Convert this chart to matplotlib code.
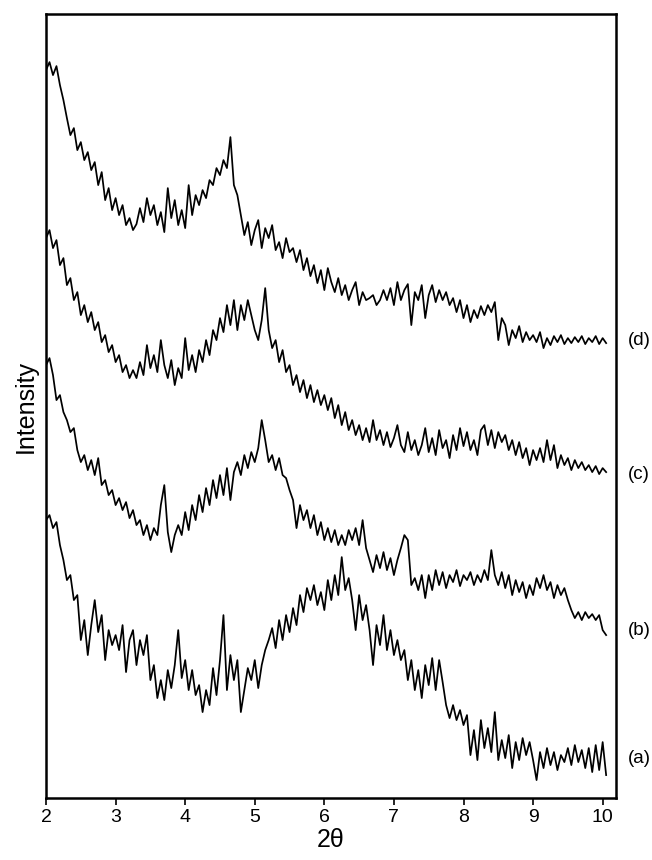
import numpy as np
import matplotlib
matplotlib.use("Agg")
import matplotlib.pyplot as plt

plt.rcParams['font.family'] = ['Liberation Sans', 'DejaVu Sans']

# 2-theta grid (degrees), 0.05 step
two_theta = np.round(np.arange(2.0, 10.051, 0.05), 2)

# intensities (arb. units, curves already offset as in the figure)
int_a = [280, 285, 272, 278, 255, 240, 220, 225, 200, 205, 160, 180, 145, 175, 200, 168,
         185, 140, 170, 155, 165, 150, 175, 128, 160, 170, 135, 160, 145, 165, 120, 135,
         102, 120, 100, 130, 112, 135, 170, 122, 140, 110, 130, 105, 115, 88, 110, 95,
         132, 105, 140, 185, 110, 145, 120, 140, 88, 110, 132, 120, 140, 112, 135, 150,
         160, 172, 152, 180, 160, 185, 168, 192, 175, 205, 188, 212, 200, 215, 195, 208,
         190, 220, 200, 225, 205, 243, 210, 222, 200, 170, 205, 180, 195, 170, 135, 175,
         155, 185, 150, 170, 145, 160, 140, 150, 120, 140, 110, 130, 102, 135, 115, 142,
         110, 140, 118, 95, 82, 95, 80, 90, 75, 85, 45, 70, 40, 80, 52, 72,
         48, 88, 40, 60, 42, 65, 32, 58, 40, 62, 45, 58, 40, 20, 48, 32,
         52, 35, 48, 30, 45, 38, 52, 35, 55, 38, 50, 32, 52, 28, 55, 30,
         58, 25]

int_b = [435, 442, 425, 400, 405, 388, 380, 368, 372, 350, 338, 345, 330, 340, 325, 342,
         315, 320, 305, 310, 295, 302, 290, 298, 282, 290, 275, 280, 265, 275, 260, 272,
         265, 295, 315, 268, 248, 265, 275, 265, 288, 270, 295, 280, 305, 288, 312, 295,
         320, 302, 325, 305, 332, 300, 328, 338, 325, 345, 332, 348, 338, 352, 380, 360,
         338, 345, 330, 342, 325, 322, 310, 300, 272, 295, 280, 290, 272, 285, 265, 278,
         260, 272, 258, 270, 255, 265, 255, 270, 260, 272, 255, 280, 252, 240, 228, 245,
         232, 248, 230, 242, 225, 240, 252, 265, 260, 215, 222, 210, 225, 202, 225, 210,
         230, 215, 228, 212, 225, 218, 230, 214, 225, 220, 228, 215, 225, 218, 230, 220,
         250, 225, 215, 228, 212, 225, 205, 220, 208, 218, 202, 215, 205, 222, 212, 225,
         210, 218, 202, 215, 205, 212, 200, 190, 182, 188, 180, 188, 182, 186, 180, 185,
         170, 165]

int_c = [562, 570, 552, 560, 535, 542, 515, 522, 500, 508, 485, 495, 478, 488, 470, 478,
         458, 465, 448, 455, 438, 445, 428, 435, 422, 430, 422, 438, 425, 455, 432, 445,
         428, 460, 435, 422, 440, 415, 432, 422, 462, 430, 445, 428, 450, 438, 460, 445,
         470, 460, 482, 468, 495, 475, 500, 470, 495, 480, 500, 485, 470, 460, 480, 512,
         470, 452, 460, 438, 450, 428, 435, 415, 425, 408, 420, 402, 415, 398, 410, 395,
         405, 390, 402, 382, 395, 375, 388, 370, 380, 365, 375, 360, 372, 358, 380, 360,
         370, 355, 368, 353, 362, 375, 355, 348, 368, 350, 360, 345, 355, 372, 348, 362,
         345, 370, 352, 360, 342, 365, 350, 372, 354, 368, 350, 360, 345, 370, 375, 355,
         370, 352, 368, 358, 365, 350, 360, 345, 358, 342, 352, 335, 350, 340, 352, 338,
         360, 340, 355, 332, 345, 335, 342, 330, 340, 332, 338, 330, 335, 328, 334, 326,
         332, 328]

int_d = [730, 738, 725, 734, 715, 700, 682, 665, 672, 650, 658, 640, 648, 630, 638, 615,
         628, 600, 612, 590, 602, 585, 595, 575, 582, 570, 576, 592, 578, 602, 585, 595,
         575, 588, 568, 612, 582, 600, 575, 590, 572, 615, 585, 605, 595, 610, 602, 620,
         615, 632, 625, 640, 632, 663, 615, 605, 585, 565, 578, 555, 570, 580, 552, 572,
         562, 575, 550, 558, 542, 562, 548, 552, 538, 550, 530, 542, 524, 535, 517, 530,
         510, 532, 518, 508, 522, 505, 515, 500, 510, 518, 495, 508, 500, 502, 505, 495,
         500, 510, 500, 512, 495, 518, 500, 510, 516, 475, 508, 500, 515, 482, 505, 515,
         498, 510, 500, 508, 495, 502, 488, 500, 482, 495, 478, 490, 482, 494, 485, 495,
         488, 498, 460, 482, 475, 455, 470, 462, 474, 458, 468, 460, 465, 458, 468, 452,
         462, 455, 464, 458, 465, 456, 462, 457, 463, 458, 464, 456, 462, 458, 464, 456,
         462, 457]

series = [(int_a, '(a)', 42), (int_b, '(b)', 170), (int_c, '(c)', 326), (int_d, '(d)', 460)]

fig = plt.figure(figsize=(6.52, 8.6), dpi=100)
ax = fig.add_axes([0.0706, 0.072, 0.874, 0.9116])

for vals, lab, ylab in series:
    ax.plot(two_theta, vals, color='black', lw=1.25)
    ax.text(10.36, ylab, lab, fontsize=13.5, va='center', ha='left', clip_on=False)

ax.set_xlim(2.0, 10.19)
ax.set_ylim(2, 786)
ax.set_xticks(range(2, 11))
ax.set_yticks([])
ax.tick_params(axis='x', direction='out', length=5, width=1.2, labelsize=14, pad=3)
for sp in ax.spines.values():
    sp.set_linewidth(1.8)

ax.set_xlabel('2θ', fontsize=18, labelpad=1)
ax.set_ylabel('Intensity', fontsize=18, labelpad=6)

fig.savefig('out.png', dpi=100)
plt.close(fig)
